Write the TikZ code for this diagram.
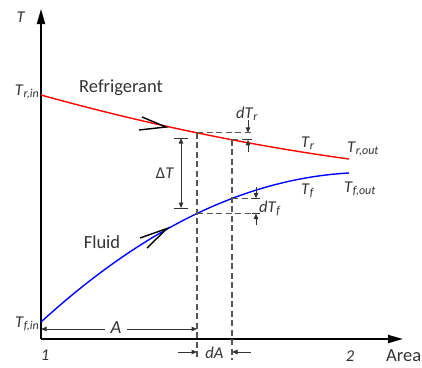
\documentclass[tikz,border=0pt]{standalone}
\usepackage{fontspec}
\setmainfont{Carlito}
\usetikzlibrary{arrows.meta}
\definecolor{txt}{HTML}{333333}
\definecolor{dash}{HTML}{555555}
\newcommand\ilab[2]{\textit{#1}{\fontsize{12}{12}\selectfont\raisebox{-0.35ex}{\textit{#2}}}}
\begin{document}
\begin{tikzpicture}[x=1pt,y=-1pt,
  lab/.style={text=txt,inner sep=0pt,font=\fontsize{16.5}{18}\selectfont},
  biglab/.style={text=txt,inner sep=0pt,font=\fontsize{18.5}{20}\selectfont},
  axis/.style={line width=1.8pt,-{Triangle[width=8pt,length=15pt]}},
  dimline/.style={line width=1pt,draw=txt},
  dimarrow/.style={line width=1pt,draw=txt,-{Triangle[width=4.5pt,length=5.5pt]}},
  dimboth/.style={line width=1pt,draw=txt,{Triangle[width=4.5pt,length=5.5pt]}-{Triangle[width=4.5pt,length=5.5pt]}},
  dashline/.style={line width=1.1pt,draw=dash,dash pattern=on 6pt off 3.5pt},
  chev/.style={line width=1.4pt,black}]
\useasboundingbox (0,0) rectangle (422,367);
% key points
\coordinate (O) at (41,339);
\coordinate (ytop) at (41,9);
\coordinate (xend) at (403,339);
\coordinate (rin) at (41,95);
\coordinate (rout) at (349,159);
\coordinate (fin) at (41,322);
\coordinate (fout) at (349,173);
\coordinate (r1) at (197,132.8);
\coordinate (r2) at (232,139.8);
\coordinate (f1) at (197,213.5);
\coordinate (f2) at (232,198.4);
\coordinate (b1) at (197,360);
\coordinate (b2) at (232,360);
% axes
\draw[axis] (O) -- (ytop);
\draw[axis] (O) -- (xend);
% curves
\draw[line width=1.4pt,red] (rin) .. controls (143.7,123.5) and (246.3,144.9) .. (rout);
\draw[line width=1.4pt,blue] (fin) .. controls (143.7,228.3) and (246.3,178.6) .. (fout);
% flow chevrons
\coordinate (rtip) at (166,127);
\draw[chev] (142,117) -- (rtip) -- (139,130);
\coordinate (ftip) at (167,228.5);
\draw[chev] (140,238) -- (ftip) -- (147,248);
% dashed construction lines
\draw[dashline] (r1) -- (b1);
\draw[dashline] (r2) -- (b2);
\draw[dashline] (r1) -- (252,132.8);
\draw[dashline] (r2) -- (252,139.8);
\draw[dashline] (f2) -- (260,198.4);
\draw[dashline] (f1) -- (260,213.5);
% dT_r
\draw[dimarrow] (248,120) -- (248,132.8);
\draw[dimarrow] (248,152) -- (248,139.8);
\draw[dimline] (244,139.8) -- (252,139.8);
% dT_f
\draw[dimarrow] (256,187) -- (256,198.4);
\draw[dimarrow] (256,225) -- (256,213.5);
\draw[dimline] (252,198.4) -- (260,198.4);
\draw[dimline] (252,213.5) -- (260,213.5);
% Delta T
\draw[dimline] (174,138) -- (188,138);
\draw[dimline] (174,208) -- (188,208);
\draw[dimboth] (181,138) -- (181,208);
% A
\coordinate (A1) at (41,329);
\coordinate (A2) at (197,329);
\draw[dimboth] (A1) -- (A2);
\node[biglab,fill=white,inner xsep=6pt,inner ysep=1pt] (Alab) at (116,328) {\textit{A}};
% dA
\draw[dimarrow] (178,352) -- (197,352);
\draw[dimarrow] (251,352) -- (232,352);
\node[lab] (dAlab) at (214.5,353) {\textit{dA}};
% labels
\node[lab] (Tax) at (21,17) {\textit{T}};
\node[lab,anchor=base east] (trin) at (39,95) {\ilab{T}{r,in}};
\node[lab,anchor=base east] (tfin) at (39,327) {\ilab{T}{f,in}};
\node[biglab] (refr) at (121,88) {Refrigerant};
\node[biglab] (fluid) at (102,242) {Fluid};
\node[lab,anchor=base west] (tr) at (301,147) {\ilab{T}{r}};
\node[lab,anchor=base west] (trout) at (347,152) {\ilab{T}{r,out}};
\node[lab,anchor=base west] (tf) at (301,194) {\ilab{T}{f}};
\node[lab,anchor=base west] (tfout) at (344,192) {\ilab{T}{f,out}};
\node[lab,anchor=base west] (dtr) at (236,118) {\ilab{dT}{r}};
\node[lab,anchor=base west] (dtf) at (259,212) {\ilab{dT}{f}};
\node[lab] (dT) at (165,173) {Δ\textit{T}};
\node[lab] (one) at (45,355) {\textit{1}};
\node[lab] (two) at (350,356) {\textit{2}};
\node[biglab,anchor=base west] (area) at (386,361) {Area};
\end{tikzpicture}
\end{document}
